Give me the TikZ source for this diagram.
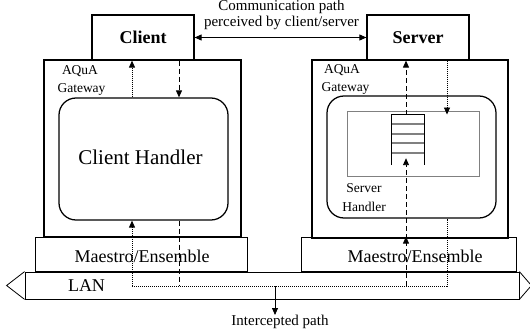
\documentclass[tikz,border=0pt]{standalone}
\usepackage{fontspec}
\setmainfont{Liberation Serif}
\usetikzlibrary{arrows.meta}
\tikzset{
  heavy/.style={draw,line width=1.25pt,inner sep=0pt},
  light/.style={draw,line width=0.8pt,inner sep=0pt},
  lbl/.style={inner sep=0pt,font=\fontsize{13.5}{15}\selectfont},
  big/.style={inner sep=0pt,font=\fontsize{18}{20}\selectfont},
  tip/.tip={Triangle[length=7pt,width=6pt]},
  dotpath/.style={line width=0.9pt,dash pattern=on 1pt off 1pt},
  dashpath/.style={line width=0.9pt,dash pattern=on 5pt off 3pt},
}
\begin{document}
\begin{tikzpicture}[x=1pt,y=-1pt]
\clip (0,0) rectangle (530,331);

% LAN bar with pointed ends
\node[light,minimum width=494pt,minimum height=27pt] (lan) at (272,285.5) {};
\draw[line width=0.8pt] (lan.north west) -- ([xshift=-18pt]lan.west) -- (lan.south west);
\draw[line width=0.8pt] (lan.north east) -- ([xshift=12pt]lan.east) -- (lan.south east);
\node[big] (lantext) at (86.5,286) {LAN};

% group communication layer
\node[light,minimum width=212pt,minimum height=34pt] (cme) at (141,254) {};
\node[light,minimum width=215pt,minimum height=34pt] (sme) at (408.5,254) {};
\node[big] (cmetext) at (142,256) {Maestro/Ensemble};
\node[big] (smetext) at (415,256) {Maestro/Ensemble};

% gateways
\node[heavy,minimum width=197pt,minimum height=177pt] (cgw) at (142.5,148.5) {};
\node[heavy,minimum width=196pt,minimum height=178pt] (sgw) at (410,149) {};
\node[lbl] (cgwa) at (80,71) {AQuA};
\node[lbl] (cgwb) at (81.5,89) {Gateway};
\node[lbl] (sgwa) at (342,70) {AQuA};
\node[lbl] (sgwb) at (345.5,88) {Gateway};

% handlers
\node[heavy,rounded corners=17pt,minimum width=169pt,minimum height=122pt] (chand) at (143.5,159) {};
\node[inner sep=0pt,font=\fontsize{21}{24}\selectfont] (chandtext) at (140.5,157) {Client Handler};
\node[heavy,rounded corners=17pt,minimum width=169pt,minimum height=122pt] (shand) at (411.5,157) {};
\node[draw=gray,line width=0.9pt,minimum width=132pt,minimum height=65pt] (inner) at (413,143.5) {};
\node[lbl] (shanda) at (364,188) {Server};
\node[lbl] (shandb) at (364,207) {Handler};

% message queue (open at the bottom)
\node[minimum width=32pt,minimum height=50pt,inner sep=0pt] (queue) at (408,140) {};
\draw[line width=0.9pt] (queue.south west) -- (queue.north west) -- (queue.north east) -- (queue.south east);
\foreach \yy in {124,134,143,153}
  \draw[gray,line width=1.1pt] (queue.west |- 0,\yy) -- (queue.east |- 0,\yy);

% client and server
\node[heavy,minimum width=102pt,minimum height=45pt,font=\fontsize{18}{20}\selectfont\bfseries] (client) at (143,37.5) {Client};
\node[heavy,minimum width=102pt,minimum height=45pt,font=\fontsize{18}{20}\selectfont\bfseries] (server) at (418,37.5) {Server};

% perceived path
\draw[line width=0.9pt,tip-tip] (client.east) -- (server.west);
\node[inner sep=0pt,align=center,font=\fontsize{15}{16}\selectfont] (commtext) at (281.5,15) {Communication path\\perceived by client/server};

% intercepted paths
\coordinate (cu) at (132,286);
\coordinate (cd) at (179,286);
\coordinate (su) at (406,286);
\coordinate (sd) at (447,286);
\coordinate (ip) at (275,286);

\draw[dotpath,-tip] (cu) -- (cu |- chand.south);
\draw[dotpath,-tip] (cu |- chand.north) -- (cu |- client.south);
\draw[dotpath] (cu) -- (sd) -- (sd |- shand.south);
\draw[dotpath,-tip] (sd |- server.south) -- ([yshift=-4pt]sd |- inner.north);

\draw[dashpath,-tip] (cd |- client.south) -- (cd |- chand.north);
\draw[dashpath] (cd |- chand.south) -- (cd);
\draw[dashpath,-tip] (su) -- (su |- sme.north);
\draw[dashpath,-tip] (su |- sgw.south) -- ([yshift=7pt]su |- queue.south);
\draw[dashpath,-tip] (su |- queue.north) -- (su |- server.south);

\node[inner sep=0pt,font=\fontsize{15}{16}\selectfont] (itext) at (280,322) {Intercepted path};
\draw[line width=0.8pt,-tip] (ip) -- (ip |- 0,315);
\end{tikzpicture}
\end{document}
